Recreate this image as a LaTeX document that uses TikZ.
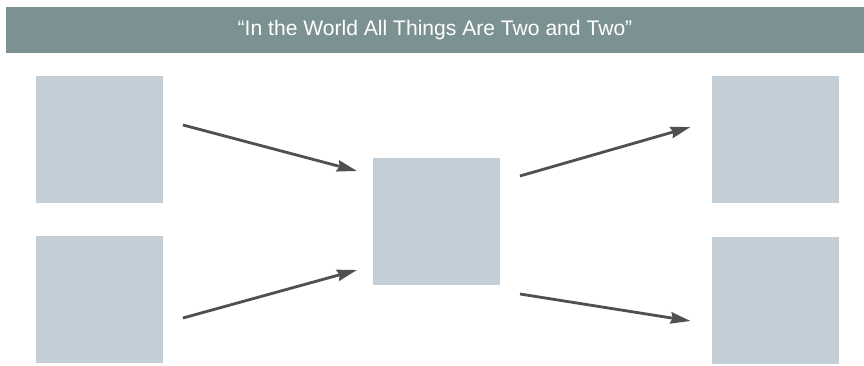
\documentclass[tikz,border=0pt]{standalone}
\usepackage{fontspec}
\setmainfont{Liberation Sans}
\usetikzlibrary{positioning,arrows.meta}
\definecolor{bannergray}{HTML}{7B9192}
\definecolor{boxgray}{HTML}{C3CED6}
\definecolor{arrowgray}{HTML}{505050}
\tikzset{
  banner/.style={fill=bannergray, text=white, font=\fontsize{18}{21}\selectfont,
                 minimum width=25.74cm, minimum height=1.38cm, inner sep=0pt},
  sq/.style={fill=boxgray, minimum width=3.81cm, minimum height=3.81cm,
             inner sep=0pt, outer sep=0pt},
  flow/.style={-{Stealth[length=6mm, width=3.4mm, inset=0.6mm]}, line width=2.4pt, arrowgray},
}

\begin{document}
\begin{tikzpicture}
    \useasboundingbox (0,0) rectangle (25.92,-10.98);
    \node[banner] (title) at (13.05,-0.9) {“In the World All Things Are Two and Two”};
    \node[sq] (tl) at (2.985,-4.185) {};
    \node[sq] (bl) at (2.985,-9.0) {};
    \node[sq] (mid) at (13.095,-6.66) {};
    \node[sq] (tr) at (23.25,-4.2) {};
    \node[sq] (br) at (23.25,-9.015) {};
    \draw[flow] ([shift={(0.6,0.435)}]tl.east) -- ([shift={(-0.48,1.53)}]mid.west);
    \draw[flow] ([shift={(0.6,-0.54)}]bl.east) -- ([shift={(-0.48,-1.44)}]mid.west);
    \draw[flow] ([shift={(0.6,1.38)}]mid.east) -- ([shift={(-0.63,0.39)}]tr.west);
    \draw[flow] ([shift={(0.6,-2.16)}]mid.east) -- ([shift={(-0.63,-0.615)}]br.west);
  \end{tikzpicture}
\end{document}
